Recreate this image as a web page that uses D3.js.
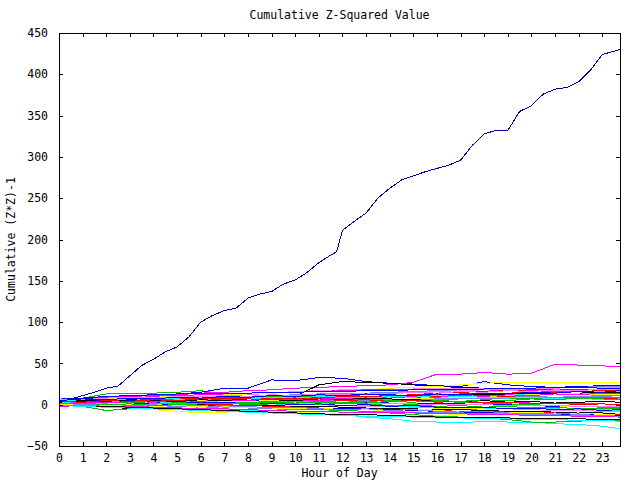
<!DOCTYPE html>
<html><head><meta charset="utf-8">
<script src="https://cdn.jsdelivr.net/npm/d3@7"></script>
<style>
body{margin:0;background:#fff;}
text{font-family:"DejaVu Sans Mono",monospace;font-size:11.5px;fill:#000;}
</style></head>
<body><svg id="c" width="640" height="480"></svg>
<script>
// ---- data ----
const titleText = "Cumulative Z-Squared Value";
const xLabel = "Hour of Day";
const yLabel = "Cumulative (Z*Z)-1";
const xTicks = d3.range(0, 24);
const yTicks = [-50,0,50,100,150,200,250,300,350,400,450];
const hours = [0,1,2,3,4,5,6,7,8,9,10,11,12,13,14,15,16,17,18,19,20,21,22,23,23.75];
const mainHours = [0,0.5,1,1.5,2,2.5,3,3.5,4,4.5,5,5.5,6,6.5,7,7.5,8,8.5,9,9.5,10,10.5,11,11.5,11.75,12,12.5,13,13.5,14,14.5,15,15.5,16,16.5,17,17.5,18,18.5,19,19.5,20,20.5,21,21.5,22,22.5,23,23.5,23.75];
const mainValues = [3,7,11,15,20,22.5,35,47.5,55,64,70,82,100,108,114,117,129,134,137,146,151,160,172,181,185,211,222,232,250,262,272,277,282,286,290,296,314,328,332,332,355,362,376,382,384,391,405,424,428,430];
const colors = ["#ff0000","#00c000","#0000ff","#ff00ff","#00ffff","#ffff00","#000000","#ff80ff","#8080ff"];
const series = [
 [2,3,4,5,5,6,7,6,8,9,10,10,11,12,12,11,12,13,13,14,15,15,16,17,17],
 [5,8,13,13,14,15,17,13,12,11,9,8,6,4,2,0,-2,-5,-7,-9,-11,-12,-13,-12,-12],
 [5,7,8,10,12,13,15,20,20,30,29,33,32,28,26,25,23,22,28,24,22,21,22,23,23],
 [3,4,6,8,10,12,14,15,17,18,20,21,22,23,24,27,37,37,39,37,38,49,48,47,46],
 [0,-1,-2,-3,-4,-4,-5,-6,-7,-8,-10,-11,-12,-15,-17,-20,-21,-22,-20,-21,-21,-23,-24,-26,-29],
 [1,0,-2,-4,-6,-8,-10,-9,-8,-8,-9,-10,-11,-13,-15,-14,-13,-12,-12,-11,-10,-10,-9,-9,-8],
 [2,0,-2,-5,2,4,5,6,7,8,10,24,28,27,26,24,22,21,20,19,18,17,16,15,14],
 [4,5,6,7,8,9,10,11,12,14,16,17,18,18,19,19,20,20,19,18,18,17,17,16,16],
 [3,2,1,0,-1,-2,-3,-3,-4,-5,-6,-6,-7,-8,-8,-9,-10,-10,-11,-11,-12,-12,-13,-13,-14],
 [6,5,5,4,4,3,3,2,2,3,4,5,6,7,8,9,10,10,11,10,9,9,8,8,7],
 [0,-2,-7,-5,-4,-3,-2,-1,0,1,2,3,3,4,5,6,6,7,7,8,8,8,9,9,9],
 [1,2,3,3,4,5,4,4,5,6,5,4,3,3,2,2,1,1,0,0,-1,-2,-2,-3,-3],
 [-2,-1,-1,0,0,1,2,3,4,4,5,5,6,6,7,6,5,4,3,3,2,2,1,1,0],
 [4,4,5,5,6,6,7,7,8,8,9,9,10,10,10,11,11,12,12,12,13,13,14,14,14],
 [5,6,7,8,9,10,11,12,13,14,15,16,17,18,20,21,22,24,26,27,27,27,27,27,27],
 [3,3,2,2,1,1,0,0,-1,-1,-2,-2,-3,-4,-4,-5,-6,-6,-7,-8,-8,-9,-10,-10,-11],
 [7,7,6,6,5,5,4,4,3,2,1,0,-1,-2,-2,-3,-4,-4,-5,-5,-6,-7,-7,-8,-8],
 [2,1,2,3,4,3,2,3,4,5,6,7,8,7,6,5,6,7,8,9,10,9,10,11,12],
 [1,2,1,0,1,2,1,0,-1,-2,-3,-4,-5,-5,-6,-6,-7,-8,-8,-9,-10,-10,-11,-12,-12],
 [5,4,3,2,1,0,-1,-2,-3,-4,-5,-6,-7,-8,-10,-12,-14,-15,-16,-18,-21,-21,-20,-18,-19],
 [2,3,3,2,1,0,-1,-2,-3,-4,-5,-5,-4,-5,-6,-7,-8,-9,-10,-9,-10,-11,-12,-12,-13],
 [6,8,9,10,11,11,12,13,14,15,15,16,17,18,18,19,19,18,18,17,17,16,16,15,15],
 [-1,-2,-3,-4,-5,-6,-7,-8,-9,-10,-11,-12,-13,-14,-14,-15,-16,-16,-17,-17,-18,-18,-19,-19,-20],
 [3,2,1,1,0,-1,-2,-3,-3,-4,-5,-5,-6,-6,-7,-6,-5,-5,-4,-4,-3,-3,-2,-2,-1],
 [4,5,5,6,6,7,7,8,8,9,9,10,10,10,11,11,12,12,12,13,13,14,14,15,15],
 [0,1,2,3,4,5,6,7,8,9,10,11,12,13,14,15,16,17,18,19,20,20,21,21,21],
 [5,6,6,7,8,8,9,10,10,11,12,13,13,14,15,16,17,18,19,20,20,21,21,22,22],
 [3,4,3,4,5,5,6,7,7,8,8,8,9,10,11,12,14,15,16,17,18,18,19,19,20],
 [2,3,4,5,6,7,8,9,9,10,10,9,8,7,6,5,4,3,2,1,0,-1,-2,-3,-3],
 [7,8,10,11,12,13,13,14,14,15,15,16,16,17,17,18,18,19,19,20,20,21,21,20,20],
 [1,0,-1,-2,-3,-4,-4,-5,-6,-7,-8,-8,-9,-9,-10,-10,-11,-11,-12,-12,-13,-13,-14,-14,-15],
 [3,3,4,4,3,3,2,2,1,1,0,0,-1,-1,-2,-2,-3,-3,-4,-4,-5,-5,-6,-6,-7],
 [4,4,5,6,6,5,5,4,4,5,6,6,7,8,9,8,8,9,10,11,12,13,13,12,12],
 [0,-1,-2,-3,-4,-5,-6,-7,-8,-9,-10,-11,-12,-12,-13,-14,-15,-15,-16,-16,-17,-17,-17,-18,-18],
 [6,6,6,5,5,4,4,3,3,3,2,2,2,1,1,1,0,0,0,-1,-1,-1,-2,-2,-2],
 [-1,-1,0,0,1,1,2,2,3,3,4,4,5,5,6,6,7,7,8,8,9,9,10,10,11],
 [4,6,5,7,6,8,7,9,8,7,9,8,10,9,11,10,12,11,10,12,11,13,12,14,13],
 [2,1,3,2,4,3,2,1,3,2,1,0,2,1,-1,0,-2,-1,-3,-2,-4,-3,-5,-4,-5],
 [5,4,6,5,3,4,2,3,1,2,0,1,-1,0,-2,-1,-3,-4,-3,-5,-4,-6,-5,-7,-6],
 [1,3,2,4,3,5,4,6,5,7,6,8,7,9,8,10,9,11,10,12,11,13,12,14,13],
 [6,5,7,6,8,7,6,8,7,9,8,10,9,8,10,9,11,10,9,8,9,7,8,6,7],
 [0,1,-1,0,-2,-1,-3,-2,-4,-3,-5,-4,-6,-5,-7,-8,-7,-9,-8,-10,-9,-11,-10,-12,-11],
 [3,5,4,6,5,4,6,5,7,6,5,7,6,8,7,6,5,4,5,3,4,2,3,4,3],
 [7,6,8,9,8,10,9,11,10,12,11,13,12,14,13,15,14,16,15,17,16,18,17,19,18],
 [2,0,1,-1,0,-2,-1,-3,-2,-4,-3,-5,-6,-5,-7,-6,-8,-9,-8,-10,-11,-10,-12,-13,-14],
 [4,3,5,4,6,5,7,8,7,6,8,7,5,6,4,5,3,4,2,3,1,2,0,1,0],
 [1,2,0,1,-1,0,1,2,1,3,2,4,3,2,4,3,5,4,6,5,7,6,8,7,6],
 [5,7,6,8,7,9,8,10,9,11,10,12,11,13,12,11,13,12,14,13,15,14,16,15,17]
];
const mainColor = "#0000a0";

// ---- layout ----
const L = 59, R = 620, T = 33, B = 446, tickLen = 4;
const svg = d3.select("#c");
const x = d3.scaleLinear().domain([0, 23.75]).range([L, R]);
const y = d3.scaleLinear().domain([-50, 450]).range([B, T]);

const line = d3.line().x(d => x(d[0])).y(d => y(d[1]));
const g = svg.append("g");
series.forEach((s, i) => {
  g.append("path")
   .attr("d", line(hours.map((h, j) => [h, s[j]])))
   .attr("fill", "none").attr("stroke", colors[i % colors.length])
   .attr("stroke-width", 1).attr("shape-rendering", "crispEdges");
});
g.append("path")
 .attr("d", line(mainHours.map((h, j) => [h, mainValues[j]])))
 .attr("fill", "none").attr("stroke", mainColor)
 .attr("stroke-width", 1).attr("shape-rendering", "crispEdges");

// axes (ticks inward on all sides)
const ax = svg.append("g").attr("shape-rendering", "crispEdges");
const axB = d3.axisBottom(x).tickValues(xTicks).tickSizeInner(-tickLen).tickSizeOuter(0).tickPadding(8).tickFormat(d3.format("d"));
ax.append("g").attr("transform", `translate(0,${B})`).call(axB);
const axT = d3.axisTop(x).tickValues(xTicks).tickSizeInner(-tickLen).tickSizeOuter(0).tickFormat("");
ax.append("g").attr("transform", `translate(0,${T})`).call(axT);
const axL = d3.axisLeft(y).tickValues(yTicks).tickSizeInner(-tickLen).tickSizeOuter(0).tickPadding(11).tickFormat(d3.format("d"));
ax.append("g").attr("transform", `translate(${L},0)`).call(axL);
const axR = d3.axisRight(y).tickValues(yTicks).tickSizeInner(-tickLen).tickSizeOuter(0).tickFormat("");
ax.append("g").attr("transform", `translate(${R},0)`).call(axR);
ax.selectAll(".domain").remove();
ax.selectAll("line").attr("stroke", "#000");
svg.selectAll(".tick text").style("font-family", '"DejaVu Sans Mono",monospace').style("font-size", "11.5px").attr("fill", "#000");
ax.append("rect").attr("x", L).attr("y", T).attr("width", R - L).attr("height", B - T)
  .attr("fill", "none").attr("stroke", "#000");

svg.append("text").attr("x", (L + R) / 2).attr("y", 19).attr("text-anchor", "middle").text(titleText);
svg.append("text").attr("x", (L + R) / 2).attr("y", 477).attr("text-anchor", "middle").text(xLabel);
svg.append("text").attr("transform", `translate(15,${(T + B) / 2}) rotate(-90)`).attr("text-anchor", "middle").text(yLabel);
</script></body></html>
